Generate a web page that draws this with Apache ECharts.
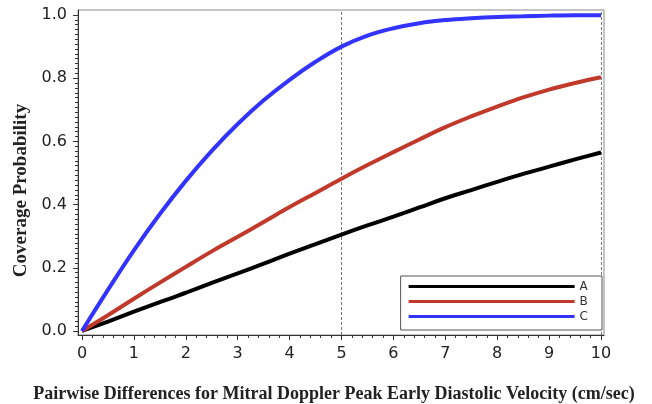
<!DOCTYPE html>
<html>
<head>
<meta charset="utf-8">
<script src="https://cdn.jsdelivr.net/npm/echarts@6/dist/echarts.min.js"></script>
<style>
html,body{margin:0;padding:0;background:#fff;}
#c{width:652px;height:404px;}
</style>
</head>
<body>
<div id="c"></div>
<script>
const xValues = [0,0.5,1,1.5,2,2.5,3,3.5,4,4.5,5,5.5,6,6.5,7,7.5,8,8.5,9,9.5,10];
const seriesA = [0,0.03,0.061,0.091,0.121,0.152,0.182,0.213,0.245,0.275,0.305,0.334,0.362,0.391,0.42,0.446,0.472,0.497,0.52,0.543,0.565];
const seriesB = [0,0.05,0.102,0.153,0.203,0.252,0.298,0.345,0.392,0.437,0.482,0.525,0.566,0.606,0.645,0.679,0.71,0.739,0.764,0.785,0.803];
const seriesC = [0,0.13,0.255,0.37,0.475,0.57,0.655,0.73,0.795,0.852,0.9,0.935,0.958,0.974,0.984,0.99,0.994,0.996,0.998,0.999,0.999];
const seriesNames = ['A','B','C'];
const refLines = [5,10];
const xTicks = [0,1,2,3,4,5,6,7,8,9,10];
const yTicks = [0,0.2,0.4,0.6,0.8,1.0];
const xTitle = 'Pairwise Differences for Mitral Doppler Peak Early Diastolic Velocity (cm/sec)';
const yTitle = 'Coverage Probability';

// axis ranges include a small padding beyond the data range, as in the original frame
const xRange = [-0.077, 10.058];
const yRange = [-0.0127, 1.0158];
const xMinorPerMajor = 5;
const yMinorPerMajor = 13;

function minorValues(ticks, n){
  const out = [];
  for (let i = 0; i < ticks.length - 1; i++) {
    const a = ticks[i], b = ticks[i+1];
    for (let k = 1; k < n; k++) out.push(a + (b - a) * k / n);
  }
  return out;
}

const colors = ['#000000','#c0392b','#3333ff'];
const W = 652, H = 404;
const G = {left:78, right:48, top:10, bottom:69};

function pairs(ys){ return xValues.map((x,i)=>[x, ys[i]]); }

const chart = echarts.init(document.getElementById('c'), null, {renderer:'canvas'});
const tickFont = {fontFamily:'DejaVu Sans', fontSize:16, color:'#222'};
const titleFont = {fontFamily:'Liberation Serif', fontWeight:'bold', fontSize:18, color:'#222'};
const axisColor = '#333';

const mkSeries = (name, ys, idx) => {
  const s = {
    name: name, type:'line', data: pairs(ys), showSymbol:false, symbol:'none',
    smooth:0.4, xAxisIndex:0, yAxisIndex:0,
    lineStyle:{color:colors[idx], width:4}, itemStyle:{color:colors[idx]},
    animation:false, z: 3
  };
  if (idx === 0) {
    s.markLine = {
      silent:true, symbol:['none','none'], label:{show:false},
      lineStyle:{color:'#777', type:[3,2], width:1},
      data: refLines.map(v=>({xAxis:v})),
      z: 1
    };
  }
  return s;
};

const baseX = {
  type:'value', min:xRange[0], max:xRange[1], position:'bottom', gridIndex:0,
  splitLine:{show:false}
};
const baseY = {
  type:'value', min:yRange[0], max:yRange[1], position:'left', gridIndex:0,
  splitLine:{show:false}
};

chart.setOption({
  backgroundColor:'#fff',
  animation:false,
  grid:{left:G.left, right:G.right, top:G.top, bottom:G.bottom, show:true,
        containLabel:false, outerBoundsMode:'none',
        borderColor:'#8a8a8a', borderWidth:1, backgroundColor:'transparent'},
  xAxis:[
    Object.assign({}, baseX, {
      axisLine:{show:true, onZero:false, lineStyle:{color:axisColor, width:1}},
      axisTick:{show:true, length:5, customValues:xTicks, lineStyle:{color:axisColor, width:1}},
      axisLabel:Object.assign({margin:11, customValues:xTicks}, tickFont),
      name:xTitle, nameLocation:'middle', nameGap:50,
      nameTextStyle:Object.assign({padding:[0,14,0,0]}, titleFont)
    }),
    Object.assign({}, baseX, {
      axisLine:{show:false, onZero:false},
      axisTick:{show:true, length:3, customValues:minorValues(xTicks, xMinorPerMajor), lineStyle:{color:axisColor, width:1}},
      axisLabel:{show:false}
    })
  ],
  yAxis:[
    Object.assign({}, baseY, {
      axisLine:{show:true, onZero:false, lineStyle:{color:axisColor, width:1}},
      axisTick:{show:true, length:5, customValues:yTicks, lineStyle:{color:axisColor, width:1}},
      axisLabel:Object.assign({margin:11, customValues:yTicks, formatter:v=>v.toFixed(1)}, tickFont),
      name:yTitle, nameLocation:'middle', nameGap:44, nameRotate:90,
      nameTextStyle:Object.assign({}, titleFont, {fontSize:19, padding:[0,36,0,0]})
    }),
    Object.assign({}, baseY, {
      axisLine:{show:false, onZero:false},
      axisTick:{show:true, length:3, customValues:minorValues(yTicks, yMinorPerMajor), lineStyle:{color:axisColor, width:1}},
      axisLabel:{show:false}
    })
  ],
  legend:{
    data:seriesNames, orient:'vertical', right:W-602, bottom:H-330,
    icon:'rect', itemWidth:166, itemHeight:3, itemGap:0,
    align:'left',
    borderColor:'#555', borderWidth:1, padding:[3,14,6,8],
    backgroundColor:'#fff',
    textStyle:{fontFamily:'DejaVu Sans', fontSize:12, color:'#333', lineHeight:15}
  },
  series:[mkSeries('A',seriesA,0), mkSeries('B',seriesB,1), mkSeries('C',seriesC,2)]
});
</script>
</body>
</html>
